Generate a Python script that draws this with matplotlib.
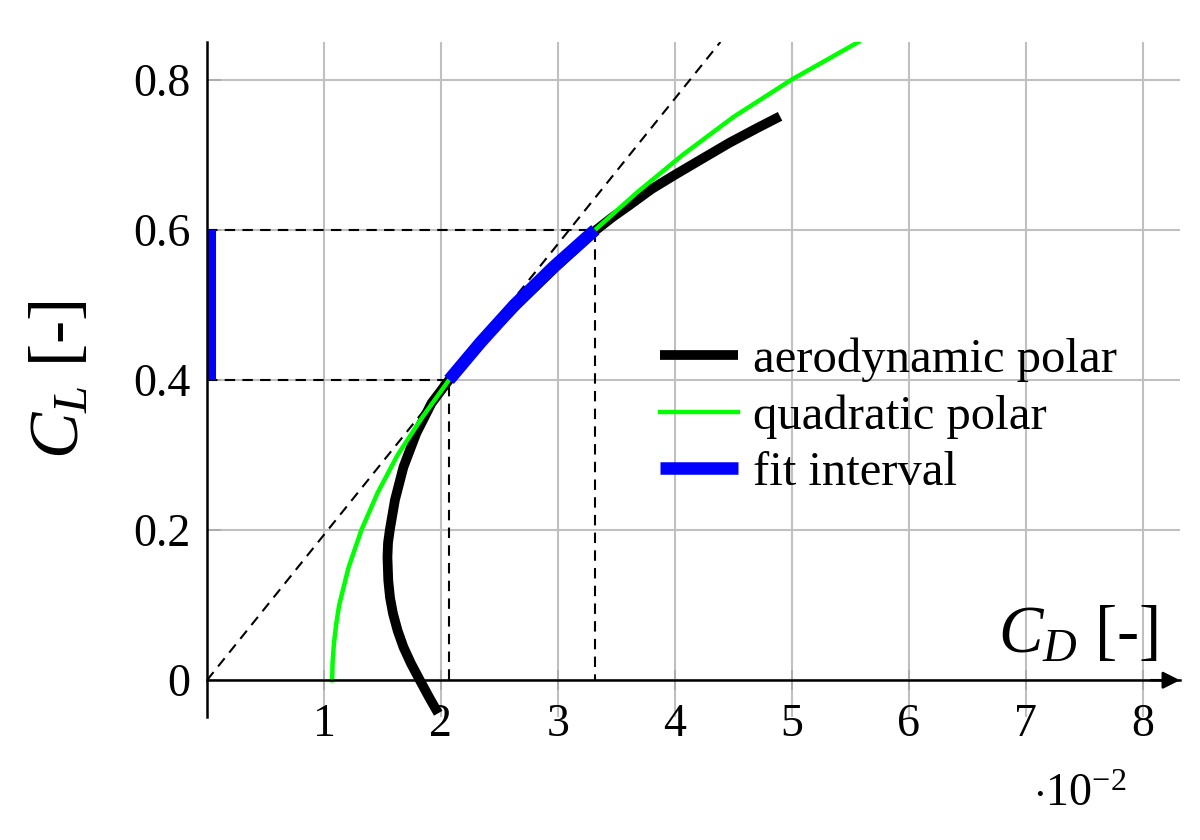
import matplotlib
matplotlib.use("Agg")
import matplotlib.pyplot as plt

# drag coefficient in units of 1e-2, lift coefficient
aero_cd = [1.977, 1.90, 1.82, 1.745, 1.68, 1.63, 1.59, 1.565, 1.55, 1.543, 1.548, 1.564, 1.607,
           1.68, 1.79, 1.92, 2.07, 2.34, 2.65, 2.98, 3.33, 3.47, 3.615, 3.80, 4.0, 4.24, 4.47,
           4.70, 4.90]
aero_cl = [-0.044, -0.023, 0.0, 0.022, 0.044, 0.066, 0.089, 0.11, 0.133, 0.164, 0.183, 0.201, 0.24,
           0.284, 0.329, 0.369, 0.40, 0.45, 0.50, 0.55, 0.60, 0.617, 0.633, 0.654, 0.673, 0.695, 0.716,
           0.735, 0.751]

quad_cd = [1.07, 1.074, 1.086, 1.105, 1.13, 1.21, 1.32, 1.46, 1.63, 1.84, 2.07, 2.34, 2.63, 2.96,
           3.32, 3.68, 4.07, 4.50, 5.0, 5.57]
quad_cl = [0.0, 0.025, 0.05, 0.075, 0.1, 0.15, 0.2, 0.25, 0.3, 0.35, 0.4, 0.45, 0.5, 0.55,
           0.6, 0.65, 0.7, 0.75, 0.8, 0.85]

fit_cd = [2.07, 2.34, 2.63, 2.96, 3.32]
fit_cl = [0.4, 0.45, 0.5, 0.55, 0.6]

tangent_cd = [0.0, 4.39]
tangent_cl = [0.0, 0.85]

x_ticks = [1, 2, 3, 4, 5, 6, 7, 8]
y_ticks = [0, 0.2, 0.4, 0.6, 0.8]
y_ticklabels = ["0", "0.2", "0.4", "0.6", "0.8"]

plt.rcParams["font.family"] = ["Liberation Serif", "DejaVu Serif"]
plt.rcParams["mathtext.fontset"] = "custom"
plt.rcParams["mathtext.rm"] = "Liberation Serif"
plt.rcParams["mathtext.it"] = "Liberation Serif:italic"

fig = plt.figure(figsize=(12, 8.4), dpi=100)
ax = fig.add_axes([207 / 1200, 1 - 717 / 840, (1180 - 207) / 1200, (717 - 42) / 840])
ax.set_xlim(0, 8.32)
ax.set_ylim(-0.049, 0.85)

grid_col = "#c0c0c0"
ax.set_xticks(x_ticks)
ax.set_yticks(y_ticks)
ax.set_yticklabels(y_ticklabels)
ax.grid(True, color=grid_col, lw=1.5, zorder=0)
ax.set_axisbelow(True)
ax.tick_params(axis="x", direction="inout", length=14, width=1.2, color="#a8a8a8",
               labelsize=33, pad=10)
ax.tick_params(axis="y", direction="in", length=10, width=1.2, color="#a8a8a8",
               labelsize=33, pad=12)

for s in ["top", "right"]:
    ax.spines[s].set_visible(False)
ax.spines["bottom"].set_position(("data", 0))
for s in ["left", "bottom"]:
    ax.spines[s].set_linewidth(1.8)
    ax.spines[s].set_zorder(10)
ax.annotate("", xy=(1.0, 0), xytext=(0.97, 0), xycoords=ax.get_yaxis_transform(),
            arrowprops=dict(arrowstyle="-|>", color="black", lw=1.8,
                            mutation_scale=26, shrinkA=0, shrinkB=0),
            annotation_clip=False, zorder=11)

dash_kw = dict(color="black", lw=1.5, dashes=(5, 3.5), zorder=3)
ax.plot(tangent_cd, tangent_cl, **dash_kw)
ax.plot([0, fit_cd[-1], fit_cd[-1]], [fit_cl[-1], fit_cl[-1], 0], **dash_kw)
ax.plot([0, fit_cd[0], fit_cd[0]], [fit_cl[0], fit_cl[0], 0], **dash_kw)

ax.plot(aero_cd, aero_cl, color="black", lw=7, solid_capstyle="butt",
        solid_joinstyle="round", zorder=4, label="aerodynamic polar")
ax.plot(quad_cd, quad_cl, color="#00ff00", lw=3.2, zorder=5, label="quadratic polar")
ax.plot(fit_cd, fit_cl, color="#0000ff", lw=9, solid_capstyle="butt", zorder=6,
        label="fit interval")
ax.plot([0, 0], [fit_cl[0], fit_cl[-1]], color="#0000ff", lw=13, solid_capstyle="butt",
        zorder=6)

leg = ax.legend(loc="upper left", bbox_to_anchor=(660 / 1200, 1 - 338 / 840),
                bbox_transform=fig.transFigure, frameon=False, fontsize=35,
                handlelength=1.6, handletextpad=0.32, labelspacing=0.25,
                borderpad=0, borderaxespad=0)

ax.text(8.13, 0.036, "$C_D$ [-]", fontsize=48, ha="right", va="baseline", zorder=12)
fig.text(62 / 1200, 1 - 380 / 840, "$C_L$ [-]", fontsize=50, rotation=90,
         ha="center", va="center")
fig.text(1080 / 1200, 1 - 795 / 840, r"$\cdot10^{-2}$", fontsize=33, ha="center", va="center")

fig.savefig("out.png", dpi=100)
